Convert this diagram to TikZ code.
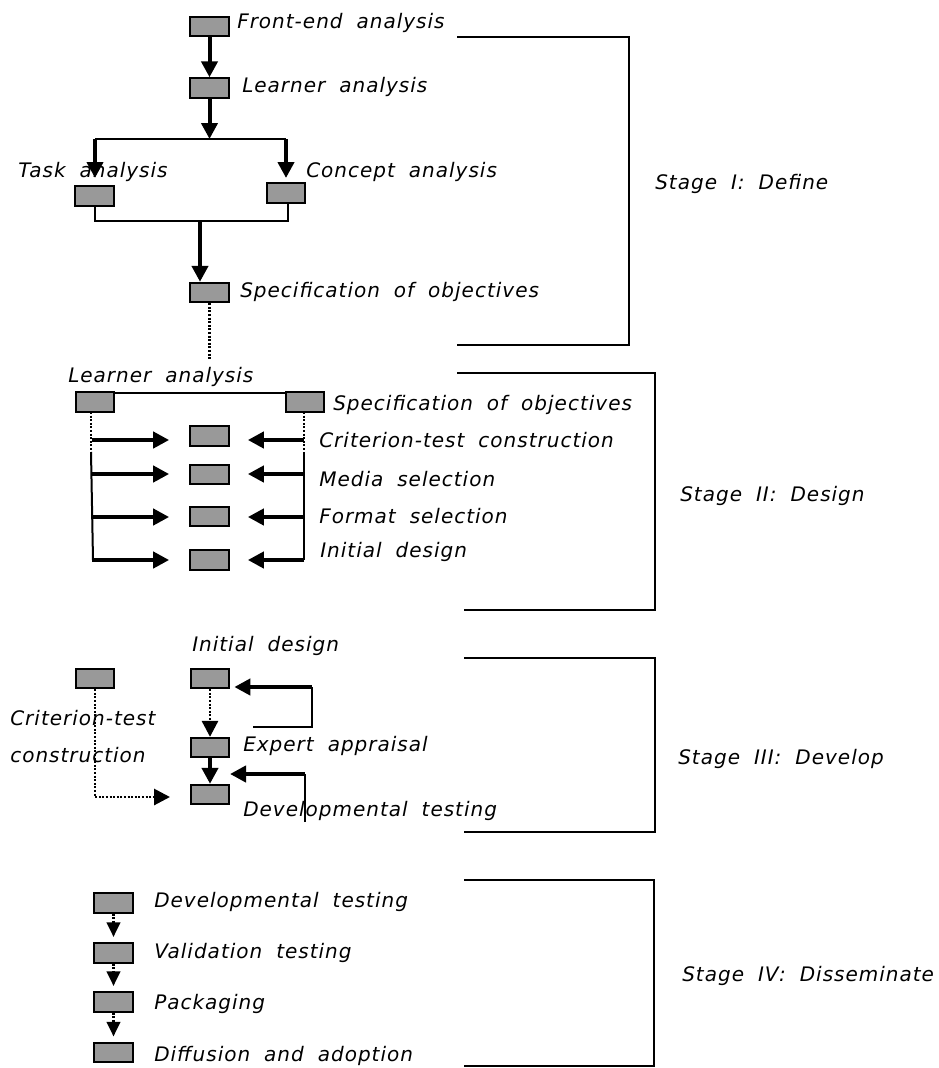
\documentclass[tikz,border=0pt]{standalone}
\usepackage{fontspec}
\newfontfamily\stagefont{DejaVu Sans}[LetterSpace=5,WordSpace=1.9]
\usetikzlibrary{arrows.meta,positioning}
\tikzset{
  blk/.style={rectangle, draw=black, line width=1.5pt, fill=black!40, minimum width=29pt, minimum height=14.5pt, inner sep=0pt},
  lbl/.style={font=\stagefont\itshape\fontsize{15}{17}\selectfont, anchor=west, inner sep=0pt, text height=0.73em, text depth=0pt},
  flow/.style={line width=3pt, -{Triangle[width=12pt,length=12pt]}},
  link/.style={line width=1.5pt},
  dots/.style={line width=2.2pt, dash pattern=on 1.5pt off 1.2pt},
  bracket/.style={line width=1.8pt}
}

\begin{document}
\begin{tikzpicture}[x=0.75pt, y=-0.75pt, line join=miter]
\useasboundingbox (0,0) rectangle (939,1068);

% Stage I: Define
\node[blk] (fe) at (209.5,26.5) {};
\node[lbl] (fetxt) at (237,24) {Front-end analysis};
\node[blk] (la) at (209.5,88) {};
\node[lbl] (latxt) at (242,88) {Learner analysis};
\coordinate (split) at (209.5,139);
\coordinate (splitL) at (95,139);
\coordinate (splitR) at (286,139);
\node[blk] (ta) at (94.5,196) {};
\node[lbl] (tatxt) at (18,173) {Task analysis};
\node[blk] (ca) at (286,193) {};
\node[lbl] (catxt) at (306,173) {Concept analysis};
\coordinate (taIn) at (95,178);
\coordinate (caIn) at (286,178);
\coordinate (joinL) at (94.5,221);
\coordinate (joinR) at (288,221);
\coordinate (join) at (200,221);
\node[blk] (so) at (209.5,292.5) {};
\node[lbl] (sotxt) at (240,293) {Specification of objectives};
\coordinate (soEnd) at (209.5,360);

\draw[flow] (fe) -- (la);
\draw[flow] (la) -- (split);
\draw[link] (splitL) -- (splitR);
\draw[flow] (splitL) -- (taIn);
\draw[flow] (splitR) -- (caIn);
\draw[link] (ta.south) -- (joinL) -- (joinR) -- (joinR |- ca.south);
\draw[flow] (join) -- (join |- so.north);
\draw[dots] (so.south) -- (soEnd);

\draw[bracket] (457,37) -- (629,37) -- (629,345) -- (457,345);
\node[lbl] (st1) at (655,185) {Stage I: Define};

% Stage II: Design
\node[lbl] (la2txt) at (68,378) {Learner analysis};
\node[blk] (la2) at (95,402) {};
\node[blk] (so2) at (305,402) {};
\node[lbl] (so2txt) at (333,406) {Specification of objectives};
\draw[link] ([yshift=-1.5pt]la2.north east) -- ([yshift=-1.5pt]so2.north west);

\node[blk] (d1) at (209.5,436) {};
\node[blk] (d2) at (209.5,474.5) {};
\node[blk] (d3) at (209.5,516.5) {};
\node[blk] (d4) at (209.5,560) {};
\node[lbl] (cttxt) at (319,443) {Criterion-test construction};
\node[lbl] (mstxt) at (319,482) {Media selection};
\node[lbl] (fstxt) at (319,519) {Format selection};
\node[lbl] (idtxt) at (320,553) {Initial design};

\coordinate (lTop) at (91,412);
\coordinate (lMid) at (91,452);
\coordinate (lBot) at (93,560);
\coordinate (rTop) at (304,412);
\coordinate (rMid) at (304,452);
\coordinate (rBot) at (304,560);
\draw[dots] (lTop) -- (91,462);
\draw[link] (lMid) -- (lBot);
\draw[dots] (rTop) -- (304,450);
\draw[link] (rMid) -- (rBot);

\foreach \b/\y in {d1/440, d2/474, d3/517, d4/560}{
  \draw[flow, shorten >=15pt] (92,\y) -- (92,\y -| \b.west);
  \draw[flow, shorten >=13.5pt] (304,\y) -- (304,\y -| \b.east);
}

\draw[bracket] (457,373) -- (655,373) -- (655,610) -- (464,610);
\node[lbl] (st2) at (680,497) {Stage II: Design};

% Stage III: Develop
\node[lbl] (id3txt) at (192,647) {Initial design};
\node[blk] (ct3) at (95,678.5) {};
\node[blk] (id3) at (210,678.5) {};
\node[lbl] (ct3a) at (10,721) {Criterion-test};
\node[lbl] (ct3b) at (10,758) {construction};
\node[blk] (ea) at (210,747.5) {};
\node[lbl] (eatxt) at (243,747) {Expert appraisal};
\node[blk] (dt) at (210,794.5) {};
\node[lbl] (dttxt) at (243,812) {Developmental testing};
\coordinate (fb1a) at (253,727);
\coordinate (fb1b) at (312,727);
\coordinate (fb1c) at (312,687);
\coordinate (fb2a) at (305,822);
\coordinate (fb2b) at (305,774);
\coordinate (ctEnd) at (170,797);

\draw[dots, -{Triangle[width=12pt,length=12pt]}] (id3) -- (ea);
\draw[flow] (ea) -- (dt);
\draw[link] (fb1a) -- (fb1b) -- (fb1c);
\draw[flow, shorten >=3pt] (fb1c) -- (fb1c -| id3.east);
\draw[link] (fb2a) -- (fb2b);
\draw[flow] (fb2b) -- (230,774);
\draw[dots, -{Triangle[width=12pt,length=12pt]}] (ct3.south) |- (ctEnd);

\draw[bracket] (464,658) -- (655,658) -- (655,832) -- (464,832);
\node[lbl] (st3) at (678,760) {Stage III: Develop};

% Stage IV: Disseminate
\node[blk] (p1) at (113.5,903) {};
\node[blk] (p2) at (113.5,953) {};
\node[blk] (p3) at (113.5,1002) {};
\node[blk] (p4) at (113.5,1052.5) {};
\node[lbl] (p1txt) at (154,903) {Developmental testing};
\node[lbl] (p2txt) at (154,954) {Validation testing};
\node[lbl] (p3txt) at (154,1005) {Packaging};
\node[lbl] (p4txt) at (154,1057) {Diffusion and adoption};
\foreach \a/\b in {p1/p2, p2/p3, p3/p4}
  \draw[dots, shorten >=4pt, -{Triangle[width=10pt,length=11pt]}] (\a) -- (\b);

\draw[bracket] (464,880) -- (654,880) -- (654,1066) -- (464,1066);
\node[lbl] (st4) at (682,977) {Stage IV: Disseminate};
\end{tikzpicture}
\end{document}
